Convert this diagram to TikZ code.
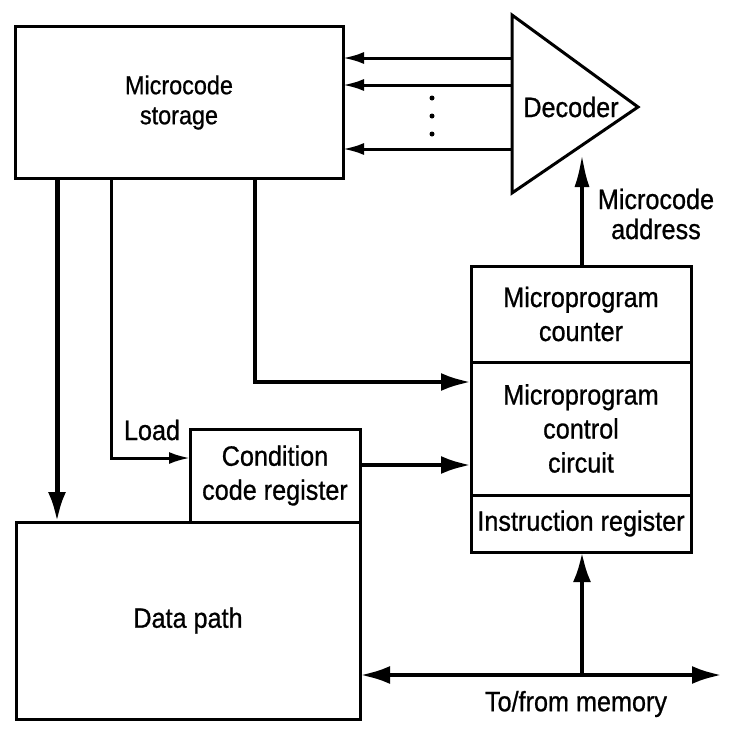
\documentclass[tikz,border=0pt]{standalone}
\usepackage{fontspec}
\setmainfont{Liberation Sans}[FakeStretch=0.9, FakeBold=0.8]
\usepackage{tikz}
\usetikzlibrary{arrows.meta}
\usetikzlibrary{positioning}
\tikzstyle{blk}=[draw, line width=3pt, outer sep=0pt, inner sep=2pt, align=center]
\tikzstyle{bus}=[line width=4.5pt, >={Latex[length=30pt,width=18pt]}]
\tikzstyle{wire}=[line width=3pt, >={Latex[length=21pt,width=12pt]}]

\begin{document}
\begin{tikzpicture}[x=1pt,y=-1pt,font=\fontsize{28}{34}\selectfont]
    \useasboundingbox (0,0) rectangle (732,734);
    \node [blk, minimum width=328pt, minimum height=152pt, font=\fontsize{26}{30}\selectfont] (store) at (179,102.5) {Microcode\\storage};
    \node [blk, minimum width=344pt, minimum height=197pt] (dp) at (188,620.5) {Data path};
    \node [blk, minimum width=170pt, minimum height=93pt, anchor=south east] (cc) at (dp.north east) {Condition\\code register};
    \node [blk, minimum width=220pt, minimum height=96pt] (pc) at (581,314) {Microprogram\\counter};
    \node [blk, minimum width=220pt, minimum height=133pt, below=0pt of pc] (ctl) {Microprogram\\control\\circuit};
    \node [blk, minimum width=220pt, minimum height=57pt, below=0pt of ctl] (ir) {Instruction register};
    \coordinate (dtop) at (512,15);
    \coordinate (dtip) at (638,107);
    \coordinate (dbot) at (512,193);
    \draw [line width=3pt, line join=miter] (dtop) -- (dtip) -- (dbot) -- cycle;
    \node (dec) at (571,107) {Decoder};
    \foreach \n/\y in {1/58,2/85,3/149} {
        \coordinate (d\n) at (512,\y);
        \draw [->, wire] (d\n) -- (d\n -| store.east);
    }
    \foreach \y in {98,116,134} \fill (432,\y) circle (2.5pt);
    \coordinate (addr) at (582,153);
    \draw [->, bus, >={Latex[length=34pt,width=15pt]}] (pc.north -| addr) -- (addr);
    \node [align=center, font=\fontsize{28}{30}\selectfont] (addrlbl) at (656,214) {Microcode\\address};
    \coordinate (s1) at (57,0);
    \coordinate (s2) at (111,458);
    \coordinate (s3) at (255,382);
    \draw [->, bus, line width=5pt] (store.south -| s1) -- (dp.north -| s1);
    \draw [->, wire] (store.south -| s2) -- (s2) -- (s2 -| cc.west);
    \node (load) at (152,430) {Load};
    \draw [->, bus] (store.south -| s3) -- (s3) -- (s3 -| ctl.west);
    \draw [->, bus] (cc.east |- 0,465) -- (ctl.west |- 0,465);
    \coordinate (bus) at (582,675);
    \coordinate (memr) at (722,675);
    \draw [<->, bus] (dp.east |- bus) -- (memr);
    \draw [->, bus] (bus) -- (ir.south -| bus);
    \node (mem) at (576,704) {To/from memory};
\end{tikzpicture}
\end{document}
